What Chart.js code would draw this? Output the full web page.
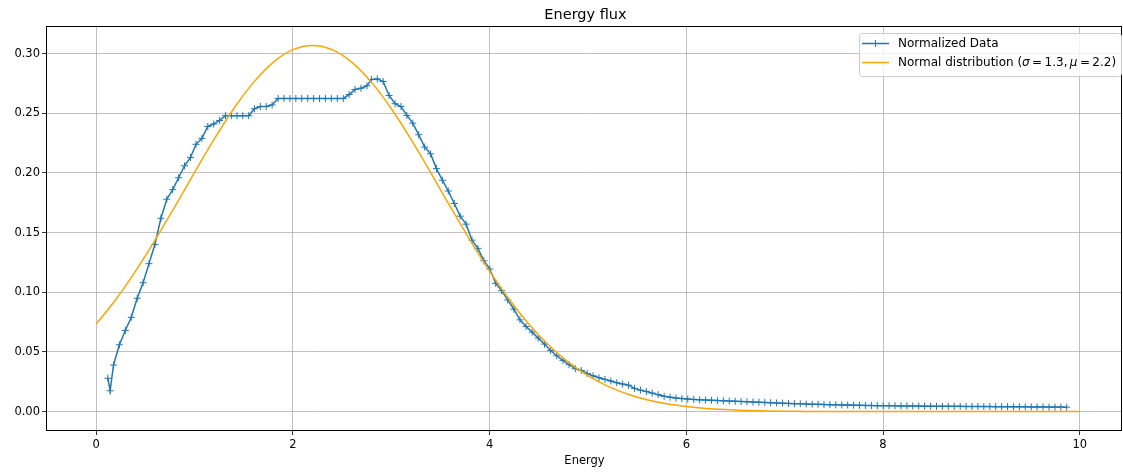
<!DOCTYPE html>
<html>
<head>
<meta charset="utf-8">
<script src="https://cdn.jsdelivr.net/npm/chart.js@4.4.1/dist/chart.umd.min.js"></script>
<style>
  html, body { margin: 0; padding: 0; background: #ffffff; overflow: hidden; }
  #wrap { position: relative; width: 1123px; height: 475px; overflow: hidden; }
  canvas { display: block; }
</style>
</head>
<body>
<div id="wrap"><canvas id="c" width="1127" height="475"></canvas></div>
<script>
// ---- data ----
const energy = [0.119, 0.142,
  0.176, 0.236, 0.296, 0.357, 0.417, 0.477, 0.537, 0.597, 0.658, 0.718,
  0.778, 0.838, 0.898, 0.959, 1.015, 1.075, 1.135, 1.195, 1.255, 1.315,
  1.374, 1.432, 1.490, 1.551, 1.609, 1.669, 1.729, 1.789, 1.850, 1.910,
  1.970, 2.030, 2.090, 2.151, 2.211, 2.271, 2.331, 2.391, 2.452, 2.512,
  2.572, 2.632, 2.692, 2.753, 2.798, 2.858, 2.918, 2.978, 3.039, 3.099,
  3.159, 3.219, 3.279, 3.340, 3.400, 3.460, 3.520, 3.580, 3.641, 3.701,
  3.761, 3.821, 3.881, 3.942, 4.002, 4.062, 4.122, 4.184, 4.247, 4.309,
  4.371, 4.433, 4.495, 4.558, 4.620, 4.683, 4.746, 4.808, 4.872, 4.932,
  4.992, 5.052, 5.112, 5.173, 5.233, 5.293, 5.353, 5.413, 5.474, 5.534,
  5.594, 5.654, 5.714, 5.775, 5.835, 5.895, 5.955, 6.015, 6.076, 6.136,
  6.196, 6.256, 6.316, 6.377, 6.437, 6.497, 6.557, 6.617, 6.678, 6.738,
  6.798, 6.858, 6.918, 6.979, 7.039, 7.099, 7.159, 7.219, 7.280, 7.340,
  7.400, 7.460, 7.520, 7.581, 7.641, 7.701, 7.761, 7.821, 7.882, 7.942,
  8.002, 8.062, 8.122, 8.183, 8.243, 8.303, 8.363, 8.423, 8.484, 8.544,
  8.604, 8.664, 8.724, 8.785, 8.845, 8.905, 8.965, 9.025, 9.086, 9.146,
  9.206, 9.266, 9.326, 9.387, 9.447, 9.507, 9.567, 9.627, 9.688, 9.748,
  9.808, 9.868];

const flux = [0.028, 0.0175,
  0.039, 0.056, 0.068, 0.079, 0.095, 0.108, 0.124, 0.140, 0.162, 0.178,
  0.186, 0.196, 0.206, 0.213, 0.224, 0.229, 0.239, 0.241, 0.244, 0.248,
  0.248, 0.248, 0.248, 0.248, 0.2538, 0.2557, 0.2557, 0.257, 0.2624, 0.2624,
  0.2624, 0.2624, 0.2624, 0.2624, 0.2624, 0.2624, 0.2624, 0.2624, 0.2624, 0.2624,
  0.2657, 0.270, 0.271, 0.273, 0.2783, 0.2788, 0.2766, 0.2649, 0.258, 0.2557,
  0.2482, 0.2418, 0.232, 0.2217, 0.216, 0.2036, 0.1939, 0.1849, 0.1744, 0.1638,
  0.1571, 0.1437, 0.1368, 0.1264, 0.1195, 0.1075, 0.1014, 0.0936, 0.0858, 0.0769,
  0.0713, 0.0666, 0.0616, 0.0566, 0.0513, 0.0468, 0.0429, 0.0393, 0.0360, 0.0345,
  0.0320, 0.0300, 0.0284, 0.0270, 0.0256, 0.0242, 0.0231, 0.0222, 0.0195, 0.0180,
  0.0168, 0.0155, 0.0142, 0.0128, 0.0121, 0.0114, 0.0109, 0.0105, 0.0102, 0.0099,
  0.0097, 0.0095, 0.0093, 0.0091, 0.0089, 0.0087, 0.0085, 0.0083, 0.0081, 0.0079,
  0.0077, 0.0075, 0.0073, 0.0071, 0.0069, 0.0067, 0.0066, 0.0064, 0.0062, 0.0061,
  0.0059, 0.0058, 0.0057, 0.0056, 0.0055, 0.0054, 0.0053, 0.0052, 0.0051, 0.0050,
  0.0050, 0.0049, 0.0049, 0.0048, 0.0048, 0.0047, 0.0047, 0.0046, 0.0046, 0.0045,
  0.0045, 0.0045, 0.0044, 0.0044, 0.0043, 0.0043, 0.0043, 0.0042, 0.0042, 0.0041,
  0.0041, 0.0041, 0.0040, 0.0040, 0.0040, 0.0039, 0.0039, 0.0039, 0.0038, 0.0038,
  0.0038, 0.0037];

const normalX = [0.0, 0.2, 0.4, 0.6, 0.8, 1.0, 1.2, 1.4, 1.6, 1.8,
  2.0, 2.2, 2.4, 2.6, 2.8, 3.0, 3.2, 3.4, 3.6, 3.8,
  4.0, 4.2, 4.4, 4.6, 4.8, 5.0, 5.2, 5.4, 5.6, 5.8,
  6.0, 6.2, 6.4, 6.6, 6.8, 7.0, 7.2, 7.4, 7.6, 7.8,
  8.0, 8.2, 8.4, 8.6, 8.8, 9.0, 9.2, 9.4, 9.6, 9.8, 10.0];
const normalY = [0.0733, 0.0940, 0.1177, 0.1439, 0.1718, 0.2004, 0.2283, 0.2540, 0.2759, 0.2927,
  0.3033, 0.3069, 0.3033, 0.2927, 0.2759, 0.2540, 0.2283, 0.2004, 0.1718, 0.1439,
  0.1177, 0.0940, 0.0733, 0.0558, 0.0415, 0.0302, 0.0214, 0.0148, 0.0100, 0.0066,
  0.0043, 0.0027, 0.0017, 0.0010, 0.0006, 0.0003, 0.0002, 0.0001, 0.0001, 0.0,
  0.0, 0.0, 0.0, 0.0, 0.0, 0.0, 0.0, 0.0, 0.0, 0.0, 0.0];

const xTicks = [0, 2, 4, 6, 8, 10];
const yTicks = [0.00, 0.05, 0.10, 0.15, 0.20, 0.25, 0.30];

const titleText = 'Energy flux';
const xLabel = 'Energy';
const seriesNames = ['Normalized Data', 'Normal distribution'];

// ---- chart ----
const BLUE = '#1f77b4';
const ORANGE = '#ffa500';
const FONT = '"DejaVu Sans", "Liberation Sans", sans-serif';

const frame = {
  id: 'frame',
  afterDraw(chart) {
    const { ctx, chartArea: a } = chart;
    ctx.save();
    ctx.strokeStyle = '#000';
    ctx.lineWidth = 1;
    const l = Math.round(a.left) - 0.5, t = Math.round(a.top) - 0.5;
    const r = Math.round(a.right) - 0.5, b = Math.round(a.bottom) + 0.5;
    ctx.strokeRect(l, t, r - l, b - t);
    // title centred over the axes
    ctx.fillStyle = '#000';
    ctx.font = '14.5px ' + FONT;
    ctx.textAlign = 'center';
    ctx.textBaseline = 'middle';
    ctx.fillText(titleText, (a.left + a.right) / 2 + 1, 15);
    ctx.restore();
  }
};

const legendBox = {
  id: 'legendBox',
  afterDraw(chart) {
    const { ctx } = chart;
    const x0 = 859.5, y0 = 33.5, w = 262, h = 43;
    ctx.save();
    const r = 3;
    ctx.beginPath();
    ctx.moveTo(x0 + r, y0);
    ctx.lineTo(x0 + w - r, y0);
    ctx.quadraticCurveTo(x0 + w, y0, x0 + w, y0 + r);
    ctx.lineTo(x0 + w, y0 + h - r);
    ctx.quadraticCurveTo(x0 + w, y0 + h, x0 + w - r, y0 + h);
    ctx.lineTo(x0 + r, y0 + h);
    ctx.quadraticCurveTo(x0, y0 + h, x0, y0 + h - r);
    ctx.lineTo(x0, y0 + r);
    ctx.quadraticCurveTo(x0, y0, x0 + r, y0);
    ctx.closePath();
    ctx.fillStyle = 'rgba(255,255,255,0.8)';
    ctx.fill();
    ctx.strokeStyle = '#cccccc';
    ctx.lineWidth = 1;
    ctx.stroke();

    const lx0 = 862, lx1 = 889;
    const row1 = 43.5, row2 = 62.5;
    ctx.strokeStyle = BLUE;
    ctx.lineWidth = 1.5;
    ctx.beginPath(); ctx.moveTo(lx0, row1); ctx.lineTo(lx1, row1); ctx.stroke();
    ctx.lineWidth = 1;
    const mx = (lx0 + lx1) / 2;
    ctx.beginPath();
    ctx.moveTo(mx, row1 - 3.5); ctx.lineTo(mx, row1 + 3.5);
    ctx.moveTo(mx - 3.5, row1); ctx.lineTo(mx + 3.5, row1);
    ctx.stroke();
    ctx.strokeStyle = ORANGE;
    ctx.lineWidth = 1.5;
    ctx.beginPath(); ctx.moveTo(lx0, row2); ctx.lineTo(lx1, row2); ctx.stroke();

    ctx.fillStyle = '#000';
    ctx.textBaseline = 'middle';
    ctx.textAlign = 'left';
    const tx = 898;
    ctx.font = '12px ' + FONT;
    ctx.fillText(seriesNames[0], tx, row1);
    let x = tx;
    const parts = [
      [seriesNames[1] + ' (', false],
      ['\u03C3', true],
      ['\u2009=\u20091.3,\u2009', false],
      ['\u03BC', true],
      ['\u2009=\u20092.2)', false]
    ];
    for (const [t, it] of parts) {
      ctx.font = (it ? 'italic ' : '') + '12px ' + FONT;
      ctx.fillText(t, x, row2);
      x += ctx.measureText(t).width;
    }
    ctx.restore();
  }
};

new Chart(document.getElementById('c'), {
  type: 'scatter',
  data: {
    datasets: [
      {
        label: seriesNames[0],
        data: energy.map((e, i) => ({ x: e, y: flux[i] })),
        showLine: true,
        borderColor: BLUE,
        backgroundColor: BLUE,
        borderWidth: 1.5,
        pointStyle: 'cross',
        pointRadius: 3.5,
        pointBorderWidth: 1,
        pointBorderColor: BLUE,
        tension: 0,
        order: 1
      },
      {
        label: seriesNames[1] + ' (σ = 1.3, μ = 2.2)',
        data: normalX.map((e, i) => ({ x: e, y: normalY[i] })),
        showLine: true,
        borderColor: ORANGE,
        backgroundColor: ORANGE,
        borderWidth: 1.5,
        pointRadius: 0,
        cubicInterpolationMode: 'monotone',
        order: 0
      }
    ]
  },
  options: {
    responsive: false,
    animation: false,
    devicePixelRatio: 1,
    events: [],
    layout: { padding: { left: 0, right: 1, top: 27, bottom: 0 } },
    plugins: {
      legend: { display: false },
      tooltip: { enabled: false },
      title: { display: false }
    },
    scales: {
      x: {
        type: 'linear',
        min: -0.5,
        max: 10.43,
        afterBuildTicks(s) { s.ticks = xTicks.map(v => ({ value: v })); },
        afterFit(s) { s.height = 45; s.paddingLeft = 0; s.paddingRight = 0; },
        ticks: {
          color: '#000',
          font: { family: FONT, size: 11.5 },
          padding: 3,
          maxRotation: 0,
          callback: v => String(v)
        },
        grid: { color: '#b0b0b0', lineWidth: 0.8, tickColor: '#000', tickLength: 5, drawTicks: true },
        border: { display: false },
        title: {
          display: true,
          text: xLabel,
          color: '#000',
          font: { family: FONT, size: 11.5 },
          padding: { top: 0, bottom: 7 }
        }
      },
      y: {
        type: 'linear',
        min: -0.0154,
        max: 0.3223,
        afterBuildTicks(s) { s.ticks = yTicks.map(v => ({ value: v })); },
        afterFit(s) { s.width = 47; },
        ticks: {
          color: '#000',
          font: { family: FONT, size: 11.5 },
          padding: 2,
          callback: v => Number(v).toFixed(2)
        },
        grid: { color: '#b0b0b0', lineWidth: 0.8, tickColor: '#000', tickLength: 5, drawTicks: true },
        border: { display: false }
      }
    }
  },
  plugins: [frame, legendBox]
});
</script>
</body>
</html>
